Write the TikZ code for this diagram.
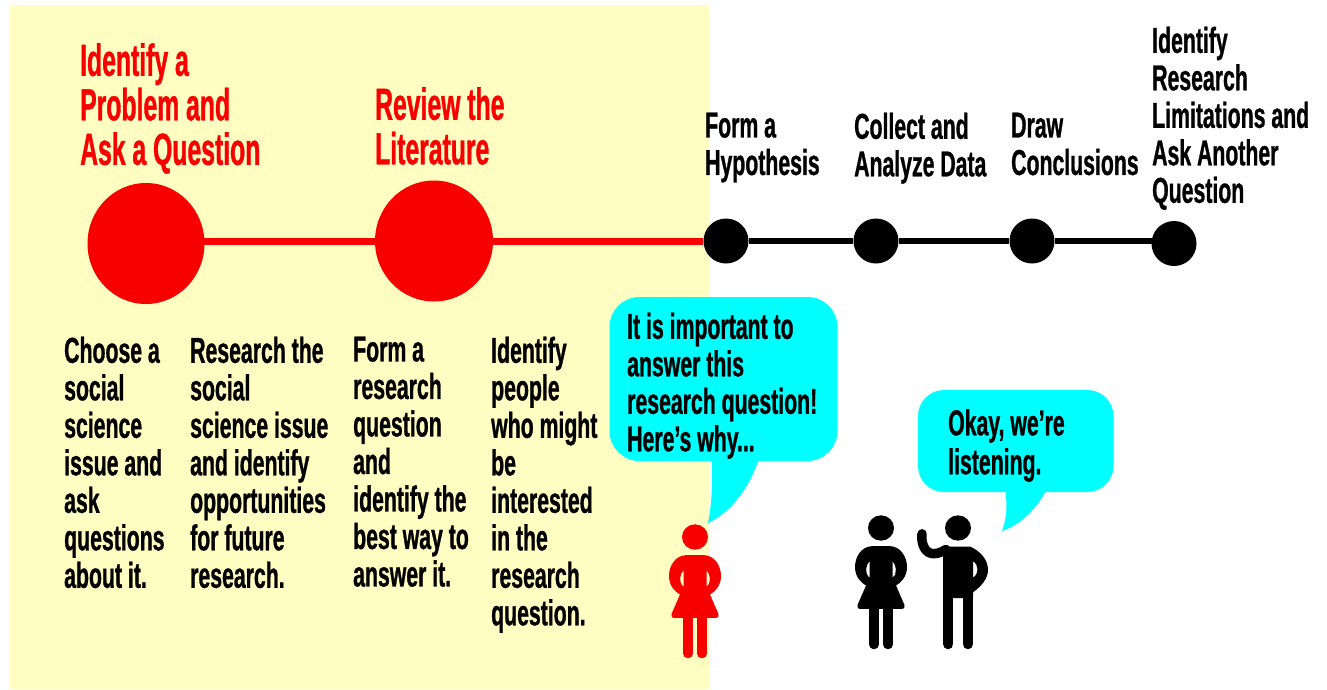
\documentclass[tikz,border=0pt]{standalone}
\usepackage{fontspec}
\usetikzlibrary{shapes.geometric}
\newfontfamily\condfont[FakeStretch=0.59,FakeBold=0.8]{Liberation Sans Bold}
\newfontfamily\condhead[FakeStretch=0.55,FakeBold=0.8]{Liberation Sans Bold}
\definecolor{paper}{HTML}{FFFDC2}
\definecolor{redc}{HTML}{F80000}
\definecolor{bubble}{HTML}{00FFFF}
\tikzset{
  bodytext/.style={anchor=north west,inner sep=0pt,align=left,text=black,font=\condfont\fontsize{36}{37.5}\selectfont},
  headtext/.style={anchor=north west,inner sep=0pt,align=left,text=redc,font=\condhead\fontsize{45}{44.5}\selectfont},
  reddot/.style={ellipse,fill=redc,inner sep=0pt,minimum height=121pt},
  blackdot/.style={circle,fill=black,inner sep=0pt,minimum size=45pt},
  redline/.style={redc,line width=7pt},
  blackline/.style={black,line width=6.5pt},
}
\newcommand{\womanfig}[3]{%
  \begin{scope}[shift={(#1,#2)},yscale=0.975]
    \fill[#3] (0,0) circle (13pt);
    \fill[#3,even odd rule] (-9,18.6) -- (9,18.6)
      .. controls (20,19) and (26,30) .. (26,40)
      .. controls (26,50) and (20,56) .. (15,59)
      -- (23.5,79) .. controls (24,82) and (23,83) .. (21,83)
      -- (-21,83) .. controls (-23,83) and (-24,82) .. (-23.5,79)
      -- (-15,59) .. controls (-20,56) and (-26,50) .. (-26,40)
      .. controls (-26,30) and (-20,19) .. (-9,18.6) -- cycle
      (-11.5,34) .. controls (-15,38) and (-17,46) .. (-11.5,51) -- cycle
      (11.5,34) .. controls (15,38) and (17,46) .. (11.5,51) -- cycle;
    \draw[#3,line width=9.5pt,line cap=round] (-7,80) -- (-7,119.5);
    \draw[#3,line width=9.5pt,line cap=round] (7,80) -- (7,119.5);
  \end{scope}}
\begin{document}
\begin{tikzpicture}[x=1pt,y=-1pt]
\useasboundingbox (0,0) rectangle (1327,689);
\fill[paper] (10,5) rectangle (709,689);
% timeline
\node[reddot,minimum width=117pt] (r1) at (146,243.5) {};
\node[reddot,minimum width=118pt] (r2) at (434,241) {};
\node[blackdot] (b1) at (726,241) {};
\node[blackdot] (b2) at (876,241) {};
\node[blackdot] (b3) at (1032,241) {};
\node[blackdot] (b4) at (1174,243.5) {};
\draw[redline] (r1 |- r2) -- (r2);
\draw[redline] (r2) -- (b1);
\draw[blackline] (b1) -- (b2);
\draw[blackline] (b2) -- (b3);
\draw[blackline] (b3) -- (b3 -| b4);
% headings
\node[headtext] (h1) at (80,43) {Identify a\\Problem and\\Ask a Question};
\node[headtext] (h2) at (375,87) {Review the\\Literature};
\node[bodytext] (t1) at (705,112.5) {Form a\\Hypothesis};
\node[bodytext] (t2) at (854,112.5) {Collect and\\Analyze Data};
\node[bodytext] (t3) at (1011,112.5) {Draw\\Conclusions};
\node[bodytext] (t4) at (1152,26.5) {Identify\\Research\\Limitations and\\Ask Another\\Question};
% columns
\node[bodytext] (c1) at (64,336.5) {Choose a\\social\\science\\issue and\\ask\\questions\\about it.};
\node[bodytext] (c2) at (190,336.5) {Research the\\social\\science issue\\and identify\\opportunities\\for future\\research.};
\node[bodytext] (c3) at (353,336.5) {Form a\\research\\question\\and\\identify the\\best way to\\answer it.};
\node[bodytext] (c4) at (491,336.5) {Identify\\people\\who might\\be\\interested\\in the\\research\\question.};
% bubbles
\fill[bubble,rounded corners=30pt] (609.5,297) rectangle (837.5,461);
\fill[bubble] (711.5,458) .. controls (713,488) and (711,508) .. (708,523)
   .. controls (730,513) and (750,488) .. (759,458) -- cycle;
\fill[bubble,rounded corners=26pt] (918,390) rectangle (1113.5,492);
\fill[bubble] (1005,489) .. controls (1008,508) and (1006,520) .. (1002,531)
   .. controls (1020,525) and (1036,510) .. (1047,489) -- cycle;
\node[bodytext] (s1) at (627,312.5) {It is important to\\answer this\\research question!\\Here’s why...};
\node[bodytext] (s2) at (948,409) {Okay, we’re\\[1.5pt]listening.};
% people
\womanfig{695}{537}{redc}
\womanfig{881}{528}{black}
\begin{scope}[shift={(958,528)},yscale=0.975]
  \fill[black] (0,0) circle (13pt);
  \fill[black,even odd rule] (-15,19) -- (12,19)
    .. controls (23,24) and (30,33) .. (30,43)
    .. controls (30,52) and (23,60) .. (15,66)
    -- (15,72) -- (-15,72) -- cycle
    (15,34) .. controls (21,38) and (21,47) .. (15,51) -- cycle;
  \draw[black,line width=9.5pt,line cap=round,line join=round] (-12,22)
    .. controls (-18,26) and (-24,27) .. (-27,26)
    .. controls (-34,24) and (-37,15) .. (-36,6);
  \draw[black,line width=10.5pt,line cap=round] (-9.8,70) -- (-9.8,119);
  \draw[black,line width=10.5pt,line cap=round] (9.8,70) -- (9.8,119);
\end{scope}
\end{tikzpicture}
\end{document}
